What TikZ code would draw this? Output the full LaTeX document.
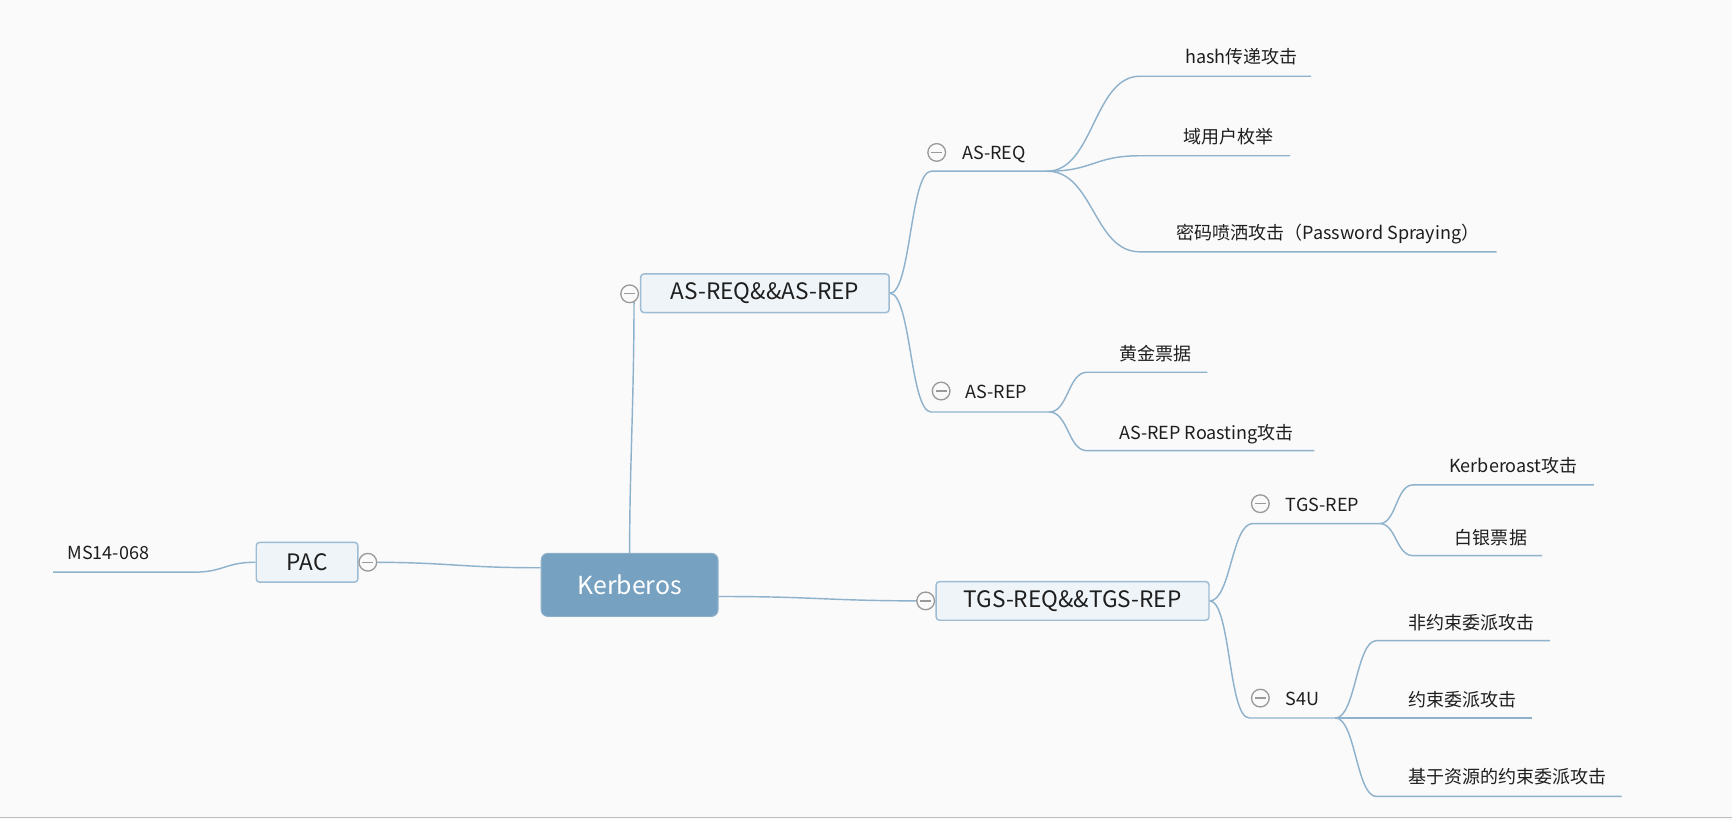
\documentclass[tikz,border=0pt]{standalone}
\usepackage{fontspec}
\setmainfont{Noto Sans CJK SC}
\definecolor{bgcol}{HTML}{FAFAFA}
\definecolor{lineblue}{HTML}{8FB2CC}
\definecolor{boxfill}{HTML}{EEF4F8}
\definecolor{boxdraw}{HTML}{9DBCD4}
\definecolor{rootfill}{HTML}{76A1C0}
\definecolor{circcol}{HTML}{9A9A9A}
\definecolor{txtcol}{HTML}{1E1E1E}
\definecolor{rulecol}{HTML}{BDBDBD}
\pgfdeclarelayer{back}
\pgfsetlayers{back,main}
\tikzset{
  connector/.style={draw=lineblue, line width=1.3pt},
  mainbox/.style={draw=boxdraw, fill=boxfill, line width=1.3pt, rounded corners=3pt,
    font=\fontsize{20.5}{24}\selectfont, text=txtcol, inner sep=0pt},
  rootbox/.style={draw=rootfill!85!white, fill=rootfill, line width=1pt, rounded corners=6pt,
    font=\fontsize{22.5}{26}\selectfont, text=white, inner sep=0pt,
    minimum width=160pt, minimum height=57pt},
  leaftext/.style={anchor=mid west, yshift=-3pt, font=\fontsize{16.3}{19}\selectfont, text=txtcol, inner sep=0pt},
  fold/.style={circle, draw=circcol, fill=bgcol, line width=1.2pt, minimum size=16pt, inner sep=0pt,
    path picture={\draw[circcol, line width=1.2pt]
      ([xshift=-5pt]path picture bounding box.center) -- ([xshift=5pt]path picture bounding box.center);}},
}
\begin{document}
\begin{tikzpicture}[x=1pt, y=-1pt]
\useasboundingbox (0,0) rectangle (1568,742);
\begin{pgfonlayer}{back}
\fill[bgcol] (0,0) rectangle (1568,742);
\end{pgfonlayer}
\draw[rulecol, line width=1.5pt] (0,740) -- (1568,740);

% main nodes
\node[rootbox] (kerb) at (570,529.5) {Kerberos};
\node[mainbox, minimum width=92pt, minimum height=36pt] (pac) at (278,509) {PAC};
\node[mainbox, minimum width=225pt, minimum height=35pt] (as) at (692.5,265.5) {AS-REQ\&\&AS-REP};
\node[mainbox, minimum width=247pt, minimum height=35pt] (tgs) at (971,544) {TGS-REQ\&\&TGS-REP};

% fold circles
\node[fold] (pacfold) at (333,509) {};
\node[fold] (asfold) at (570,266) {};
\node[fold] (tgsfold) at (838,544) {};
\node[fold] (asreqfold) at (848,138) {};
\node[fold] (asrepfold) at (852,354) {};
\node[fold] (tgsrepfold) at (1141,456) {};
\node[fold] (sfufold) at (1141,632) {};

% sub-branch labels
\node[leaftext] (asreq) at (871,139) {AS-REQ};
\node[leaftext] (asrep) at (874,355) {AS-REP};
\node[leaftext] (tgsrep) at (1164,457) {TGS-REP};
\node[leaftext] (sfu) at (1164,633) {S4U};

% leaf labels
\node[leaftext] (ms) at (61,501) {MS14-068};
\node[leaftext] (hash) at (1073,52) {hash传递攻击};
\node[leaftext] (dom) at (1071,124) {域用户枚举};
\node[leaftext] (pw) at (1065,211) {密码喷洒攻击（Password Spraying）};
\node[leaftext] (gold) at (1013,321) {黄金票据};
\node[leaftext] (roast) at (1013,392) {AS-REP Roasting攻击};
\node[leaftext] (kr) at (1312,422) {Kerberoast攻击};
\node[leaftext] (silver) at (1317,487) {白银票据};
\node[leaftext] (unc) at (1275,564) {非约束委派攻击};
\node[leaftext] (con) at (1275,634) {约束委派攻击};
\node[leaftext] (rbcd) at (1275,704) {基于资源的约束委派攻击};

% underline end points
\coordinate (msS) at (175,518);   \coordinate (msE) at (48,518);
\coordinate (asreqS) at (843,155); \coordinate (asreqE) at (948,155);
\coordinate (asrepS) at (843,373); \coordinate (asrepE) at (950,373);
\coordinate (hashS) at (1032,69);  \coordinate (hashE) at (1187,69);
\coordinate (domS) at (1032,141);  \coordinate (domE) at (1168,141);
\coordinate (pwS) at (1032,228);   \coordinate (pwE) at (1355,228);
\coordinate (goldS) at (984,337);  \coordinate (goldE) at (1093,337);
\coordinate (roastS) at (984,408); \coordinate (roastE) at (1190,408);
\coordinate (tgsrepS) at (1134,474); \coordinate (tgsrepE) at (1249,474);
\coordinate (sfuS) at (1131,650);  \coordinate (sfuE) at (1209,650);
\coordinate (krS) at (1279,439);   \coordinate (krE) at (1443,439);
\coordinate (silverS) at (1279,503); \coordinate (silverE) at (1396,503);
\coordinate (uncS) at (1246,580);  \coordinate (uncE) at (1403,580);
\coordinate (conE) at (1387,650);
\coordinate (rbcdS) at (1246,721); \coordinate (rbcdE) at (1468,721);

\begin{pgfonlayer}{back}
% root connections
\draw[connector] ([yshift=15.5pt]kerb.west) .. controls +(-75,0) and +(75,0) .. (pacfold.center);
\draw[connector] (kerb.north) .. controls +(0,-80) and +(0,100) .. ([xshift=4pt]asfold.center);
\draw[connector] ([yshift=-10.5pt]kerb.east) .. controls +(90,0) and +(-90,0) .. (tgsfold.center);
% PAC
\draw[connector] (pac.west) .. controls +(-28,0) and +(28,0) .. (msS) -- (msE);
% AS branch
\draw[connector] (as.east) .. controls +(19,0) and +(-19,0) .. (asreqS) -- (asreqE);
\draw[connector] (as.east) .. controls +(19,0) and +(-19,0) .. (asrepS) -- (asrepE);
\draw[connector] (asreqE) .. controls +(42,0) and +(-42,0) .. (hashS) -- (hashE);
\draw[connector] (asreqE) .. controls +(42,0) and +(-42,0) .. (domS) -- (domE);
\draw[connector] (asreqE) .. controls +(42,0) and +(-42,0) .. (pwS) -- (pwE);
\draw[connector] (asrepE) .. controls +(17,0) and +(-17,0) .. (goldS) -- (goldE);
\draw[connector] (asrepE) .. controls +(17,0) and +(-17,0) .. (roastS) -- (roastE);
% TGS branch
\draw[connector] (tgs.east) .. controls +(19,0) and +(-19,0) .. (tgsrepS) -- (tgsrepE);
\draw[connector] (tgs.east) .. controls +(19,0) and +(-19,0) .. (sfuS) -- (sfuE);
\draw[connector] (tgsrepE) .. controls +(15,0) and +(-15,0) .. (krS) -- (krE);
\draw[connector] (tgsrepE) .. controls +(15,0) and +(-15,0) .. (silverS) -- (silverE);
\draw[connector] (sfuE) .. controls +(18,0) and +(-18,0) .. (uncS) -- (uncE);
\draw[connector] (sfuE) -- (conE);
\draw[connector] (sfuE) .. controls +(18,0) and +(-18,0) .. (rbcdS) -- (rbcdE);
\end{pgfonlayer}
\end{tikzpicture}
\end{document}
